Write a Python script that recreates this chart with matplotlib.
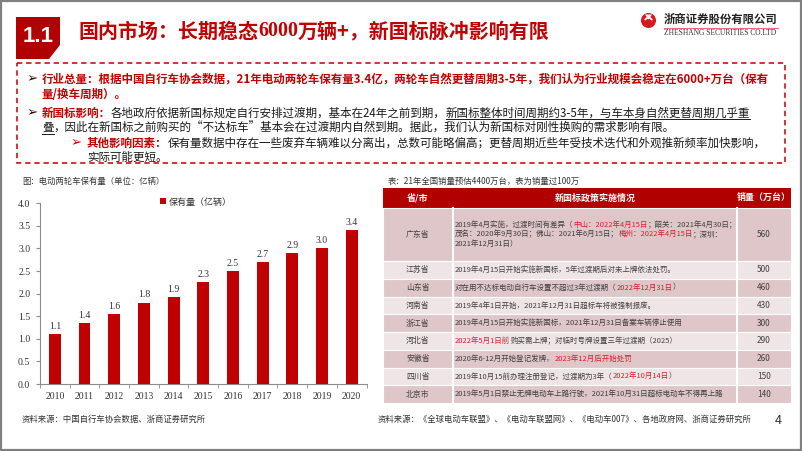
import numpy as np
import matplotlib
matplotlib.use('Agg')
import matplotlib.pyplot as plt
from matplotlib.patches import Polygon, Rectangle, Circle, Wedge

plt.rcParams['font.family'] = ['Noto Sans CJK SC', 'DejaVu Sans']
SERIF = ['Liberation Serif', 'Noto Sans CJK SC']

# ---------------- data ----------------
years = ['2010', '2011', '2012', '2013', '2014', '2015',
         '2016', '2017', '2018', '2019', '2020']
stock = [1.10, 1.35, 1.55, 1.80, 1.92, 2.25, 2.50, 2.70, 2.90, 3.00, 3.40]
stock_labels = ['1.1', '1.4', '1.6', '1.8', '1.9', '2.3',
                '2.5', '2.7', '2.9', '3.0', '3.4']

table_header = ['省/市', '新国标政策实施情况', '销量（万台）']
provinces = ['广东省', '江苏省', '山东省', '河南省', '浙江省',
             '河北省', '安徽省', '四川省', '北京市']
sales = [560, 500, 460, 430, 300, 290, 260, 150, 140]
# one list of lines per province, each line a list of (text, is_red)
policies = [
    [[('2019年4月实施，过渡时间有差异（', 0), ('中山：2022年4月15日', 1), ('；韶关：2021年4月30日；', 0)],
     [('茂名：2020年9月30日；佛山：2021年6月15日；', 0), ('梅州：2022年4月15日', 1), ('；深圳：', 0)],
     [('2021年12月31日）', 0)]],
    [[('2019年4月15日开始实施新国标，5年过渡期后对未上牌依法处罚。', 0)]],
    [[('对在用不达标电动自行车设置不超过3年过渡期（', 0), ('2022年12月31日', 1), ('）', 0)]],
    [[('2019年4年1日开始，2021年12月31日超标车将被强制报废。', 0)]],
    [[('2019年4月15日开始实施新国标，2021年12月31日备案车辆停止使用', 0)]],
    [[('2022年5月1日前', 1), ('购买需上牌；对临时号牌设置三年过渡期（2025）', 0)]],
    [[('2020年6-12月开始登记发牌，', 0), ('2023年12月后开始处罚', 1)]],
    [[('2019年10月15前办理注册登记，过渡期为3年（', 0), ('2022年10月14日', 1), ('）', 0)]],
    [[('2019年5月1日禁止无牌电动车上路行驶，2021年10月31日超标电动车不得再上路', 0)]],
]

chart_caption = '图：电动两轮车保有量（单位：亿辆）'
chart_source = '资料来源：中国自行车协会数据、浙商证券研究所'
table_caption = '表：21年全国销量预估4400万台，表为销量过100万'
table_source = '资料来源：《全球电动车联盟》、《电动车联盟网》、《电动车007》、各地政府网、浙商证券研究所'

# ---------------- colours ----------------
RED = '#C00000'
DARKRED = '#B00000'
BRIGHT = '#D42030'
TXT = '#1A1A1A'
GREY = '#404040'

W, H = 802, 451
fig = plt.figure(figsize=(W / 100, H / 100), dpi=100)
bg = fig.add_axes([0, 0, 1, 1])
bg.set_xlim(0, W)
bg.set_ylim(H, 0)
bg.axis('off')
R = fig.canvas.get_renderer()


def seg(s, color=TXT, bold=False, under=False, family=None):
    return dict(s=s, color=color, bold=bold, under=under, family=family)


def put(x, y, p, size, ha='left'):
    kw = dict(fontsize=size, color=p['color'], va='center', ha=ha,
              fontweight='bold' if p['bold'] else 'normal')
    if p['family']:
        kw['family'] = p['family']
    t = bg.text(x, y, p['s'], **kw)
    w = t.get_window_extent(R).width
    if p['under']:
        uy = y + size * 0.78
        bg.plot([x, x + w], [uy, uy], color=p['color'], lw=0.7)
    return w


def line(x, y, parts, size):
    for p in parts:
        x += put(x, y, p, size)
    return x


def span(parts, size=10):
    w = 0
    for p in parts:
        kw = dict(fontsize=size, fontweight='bold' if p['bold'] else 'normal')
        if p['family']:
            kw['family'] = p['family']
        t = bg.text(0, 0, p['s'], **kw)
        w += t.get_window_extent(R).width
        t.remove()
    return w


def fit(parts, width):
    return 10 * width / span(parts, 10)


# ---------------- frame + header ----------------
bg.add_patch(Rectangle((0.8, 0.8), W - 1.6, H - 1.6, fill=False,
                       ec='#808080', lw=1.6))
bg.add_patch(Polygon([(16, 17), (60, 17), (60, 45), (49, 59), (16, 59)],
                     closed=True, fc=DARKRED, ec='none'))
bg.text(38, 36, '1.1', color='white', fontsize=16, fontweight='bold',
        family='Liberation Sans', ha='center', va='center')

tparts = [seg('国内市场：长期稳态', RED, True), seg('6000', RED, True, family=SERIF),
          seg('万辆+，新国标脉冲影响有限', RED, True)]
line(78, 31, tparts, fit(tparts, 470))

# logo
bg.add_patch(Circle((648.5, 20.5), 7.5, fc='#D7181F', ec='none'))
bg.add_patch(Wedge((648.5, 21.5), 4.6, 200, 340, width=1.8, fc='white', ec='none'))
bg.add_patch(Polygon([(645, 14.5), (652, 14.5), (648.5, 19.5)], fc='white', ec='none'))
cn = [seg('浙商证券股份有限公司', '#222222', True)]
line(664, 19, cn, fit(cn, 114))
bg.plot([664, 778], [28.3, 28.3], color='#E07080', lw=0.8)
en = [seg('ZHESHANG SECURITIES CO.LTD', '#333333', False, family=SERIF)]
line(664, 33, en, fit(en, 114))

# ---------------- bullet box ----------------
bg.add_patch(Rectangle((17, 62.5), 768, 100, fill=False, ec=RED, lw=1.1,
                       ls=(0, (3.5, 2.5))))

b1 = [seg('行业总量：根据中国自行车协会数据，21年电动两轮车保有量3.4亿，两轮车自然更替周期3-5年，'
          '我们认为行业规模会稳定在6000+万台（保有', RED, True)]
bs = fit(b1, 730)
arrow = dict(fontsize=bs * 1.15, va='center', ha='center', family='DejaVu Sans')
bg.text(32, 79, '➢', color='#2A0A0A', **arrow)
line(42, 79, b1, bs)
line(42, 94, [seg('量/换车周期）。', RED, True)], bs)

bg.text(32, 113, '➢', color='#2A0A0A', **arrow)
line(42, 113, [seg('新国标影响：', RED, True),
               seg('各地政府依据新国标规定自行安排过渡期，基本在24年之前到期，'),
               seg('新国标整体时间周期约3-5年，与车本身自然更替周期几乎重', under=True)], bs)
line(42, 128, [seg('叠', under=True),
               seg('，因此在新国标之前购买的“不达标车”基本会在过渡期内自然到期。'
                   '据此，我们认为新国标对刚性换购的需求影响有限。')], bs)

bg.text(76, 143, '➢', color=RED, **arrow)
line(87, 143, [seg('其他影响因素：', RED, True),
               seg('保有量数据中存在一些废弃车辆难以分离出，总数可能略偏高；'
                   '更替周期近些年受技术迭代和外观推新频率加快影响，')], bs)
line(87, 157, [seg('实际可能更短。')], bs)

# ---------------- left chart ----------------
bg.text(22, 181, chart_caption, fontsize=6, color='#333333', va='center')
bg.text(22, 419, chart_source, fontsize=6, color='#333333', va='center')

ax = fig.add_axes([40 / W, (H - 384) / H, 326.5 / W, 180.7 / H])
x = np.arange(len(years))
ax.bar(x, stock, width=0.4, color=RED, label='保有量（亿辆）', zorder=3)
for xi, v, lab in zip(x, stock, stock_labels):
    ax.annotate(lab, (xi, v), xytext=(0, 2.5), textcoords='offset points',
                ha='center', va='bottom', fontsize=7, family=SERIF, color='#333333')
ax.set_xlim(-0.5, len(years) - 0.5)
ax.set_ylim(0, 4)
ax.set_yticks(np.arange(0, 4.01, 0.5))
ax.set_yticklabels(['%.1f' % v for v in np.arange(0, 4.01, 0.5)])
ax.set_xticks(x)
ax.set_xticklabels(years)
ax.set_xticks(np.arange(-0.5, len(years), 1), minor=True)
ax.tick_params(axis='x', which='major', length=0, pad=6)
ax.tick_params(axis='x', which='minor', length=3, direction='out', color='#8c8c8c')
ax.tick_params(axis='y', length=3, direction='out', color='#8c8c8c', pad=4)
for lab in ax.get_xticklabels() + ax.get_yticklabels():
    lab.set_family(SERIF)
    lab.set_fontsize(7)
    lab.set_color('#333333')
for s in ['top', 'right']:
    ax.spines[s].set_visible(False)
for s in ['left', 'bottom']:
    ax.spines[s].set_color('#8c8c8c')
    ax.spines[s].set_linewidth(0.8)
ax.set_facecolor('none')
leg = ax.legend(loc='center', bbox_to_anchor=(196 / W, 1 - 202 / H),
                bbox_transform=fig.transFigure, frameon=False, fontsize=6.5,
                handlelength=0.6, handleheight=0.6, handletextpad=0.3)
for t in leg.get_texts():
    t.set_color('#333333')

# ---------------- right table ----------------
bg.text(388, 181, table_caption, fontsize=6, color='#333333', va='center')
bg.text(378, 419, table_source, fontsize=6, color='#333333', va='center')
bg.text(778, 421, '4', fontsize=9, color='#333333', va='center', ha='center')

cx = [383, 453, 737, 791]
top, head_h, row_h = 188, 19.7, 17.75
ts = fit([seg(policies[-1][0][0][0])], 268)

bg.add_patch(Rectangle((cx[0], top), cx[3] - cx[0], head_h, fc=DARKRED, ec='none'))
for i, h in enumerate(table_header):
    bg.text((cx[i] + cx[i + 1]) / 2, top + head_h / 2, h, color='white',
            fontsize=ts * 1.2, fontweight='bold', ha='center', va='center')

y = top + head_h
for i, (prov, pol, val) in enumerate(zip(provinces, policies, sales)):
    rh = row_h if len(pol) == 1 else 53.3
    fc = '#DEC6C9' if i % 2 == 0 else '#F0E5E6'
    bg.add_patch(Rectangle((cx[0], y), cx[3] - cx[0], rh, fc=fc, ec='white', lw=0.8))
    ym = y + rh / 2
    bg.text((cx[0] + cx[1]) / 2, ym, prov, fontsize=ts * 1.05, color=GREY, ha='center', va='center')
    bg.text((cx[2] + cx[3]) / 2, ym, str(val), fontsize=ts * 1.1, color=GREY, ha='center', va='center')
    n = len(pol)
    for k, ln in enumerate(pol):
        ly = ym + (k - (n - 1) / 2) * 9.2
        line(cx[1] + 2, ly, [seg(s, BRIGHT if r else GREY) for s, r in ln], ts)
    y += rh
for xv in cx[1:3]:
    bg.plot([xv, xv], [top + head_h, y], color='white', lw=1.5)

fig.savefig('out.png', dpi=100)
